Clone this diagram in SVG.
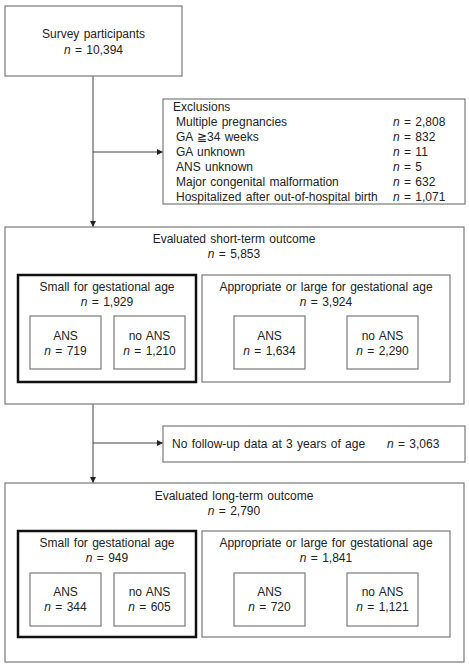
<svg xmlns="http://www.w3.org/2000/svg" width="469" height="664" viewBox="0 0 469 664">
<defs>
<marker id="ah" viewBox="0 0 6 6" refX="6" refY="3" markerWidth="6" markerHeight="6" markerUnits="userSpaceOnUse" orient="auto">
<path d="M0,0 L6,3 L0,6 Z" fill="#222"/>
</marker>
<style>
text{font-family:"Liberation Sans",Arial,sans-serif;font-size:12px;fill:#222;word-spacing:1px}
.c{text-anchor:middle}
.box{fill:#fff;stroke:#7a7a7a;stroke-width:1.2}
.thick{fill:#fff;stroke:#111;stroke-width:2.5}
.ln{fill:none;stroke:#444;stroke-width:1}
tspan.i{font-style:italic}
</style>
</defs>
<rect width="469" height="664" fill="#fff"/>
<g id="connectors">
<line class="ln" x1="93" y1="76" x2="93" y2="227" marker-end="url(#ah)"/>
<line class="ln" x1="93" y1="152" x2="163" y2="152" marker-end="url(#ah)"/>
<line class="ln" x1="93" y1="404" x2="93" y2="483" marker-end="url(#ah)"/>
<line class="ln" x1="93" y1="443" x2="163" y2="443" marker-end="url(#ah)"/>
</g>
<g id="survey">
<rect class="box" x="5" y="6" width="177" height="70"/>
<text class="c" x="93.5" y="38">Survey participants</text>
<text class="c" x="93.5" y="54"><tspan class="i">n</tspan> = 10,394</text>
</g>
<g id="exclusions">
<rect class="box" x="163" y="99" width="302" height="105"/>
<text x="173" y="111">Exclusions</text>
<text x="176" y="126">Multiple  pregnancies</text>
<text x="176" y="141">GA ≧34 weeks</text>
<text x="176" y="156">GA unknown</text>
<text x="176" y="171">ANS unknown</text>
<text x="176" y="186">Major congenital malformation</text>
<text x="176" y="201">Hospitalized after out-of-hospital birth</text>
<text x="393" y="126"><tspan class="i">n</tspan> = 2,808</text>
<text x="393" y="141"><tspan class="i">n</tspan> = 832</text>
<text x="393" y="156"><tspan class="i">n</tspan> = 11</text>
<text x="393" y="171"><tspan class="i">n</tspan> = 5</text>
<text x="393" y="186"><tspan class="i">n</tspan> = 632</text>
<text x="393" y="201"><tspan class="i">n</tspan> = 1,071</text>
</g>
<g id="short-term">
<rect class="box" x="5" y="227" width="459" height="177"/>
<text class="c" x="234" y="243">Evaluated short-term outcome</text>
<text class="c" x="234" y="258"><tspan class="i">n</tspan> = 5,853</text>
</g>
<g id="short-sga">
<rect class="thick" x="18" y="275" width="178" height="107"/>
<text class="c" x="107" y="291">Small for gestational age</text>
<text class="c" x="107" y="306"><tspan class="i">n</tspan> = 1,929</text>
</g>
<g id="short-sga-ans">
<rect class="box" x="30" y="316" width="71" height="53"/>
<text class="c" x="65.5" y="340">ANS</text>
<text class="c" x="65.5" y="355"><tspan class="i">n</tspan> = 719</text>
</g>
<g id="short-sga-noans">
<rect class="box" x="114" y="316" width="71" height="53"/>
<text class="c" x="149.5" y="340">no ANS</text>
<text class="c" x="149.5" y="355"><tspan class="i">n</tspan> = 1,210</text>
</g>
<g id="short-aga">
<rect class="box" x="202" y="275" width="248" height="107"/>
<text class="c" x="326" y="291">Appropriate or large for gestational age</text>
<text class="c" x="326" y="306"><tspan class="i">n</tspan> = 3,924</text>
</g>
<g id="short-aga-ans">
<rect class="box" x="234" y="316" width="71" height="53"/>
<text class="c" x="269.5" y="340">ANS</text>
<text class="c" x="269.5" y="355"><tspan class="i">n</tspan> = 1,634</text>
</g>
<g id="short-aga-noans">
<rect class="box" x="347" y="316" width="71" height="53"/>
<text class="c" x="382.5" y="340">no ANS</text>
<text class="c" x="382.5" y="355"><tspan class="i">n</tspan> = 2,290</text>
</g>
<g id="no-followup">
<rect class="box" x="163" y="426" width="302" height="36"/>
<text x="172" y="448">No follow-up data at 3 years of age</text>
<text x="387" y="448"><tspan class="i">n</tspan> = 3,063</text>
</g>
<g id="long-term">
<rect class="box" x="5" y="483" width="459" height="179"/>
<text class="c" x="234" y="500">Evaluated long-term outcome</text>
<text class="c" x="234" y="515"><tspan class="i">n</tspan> = 2,790</text>
</g>
<g id="long-sga">
<rect class="thick" x="18" y="531" width="178" height="106"/>
<text class="c" x="107" y="547">Small for gestational age</text>
<text class="c" x="107" y="562"><tspan class="i">n</tspan> = 949</text>
</g>
<g id="long-sga-ans">
<rect class="box" x="30" y="573" width="71" height="53"/>
<text class="c" x="65.5" y="596">ANS</text>
<text class="c" x="65.5" y="611"><tspan class="i">n</tspan> = 344</text>
</g>
<g id="long-sga-noans">
<rect class="box" x="114" y="573" width="71" height="53"/>
<text class="c" x="149.5" y="596">no ANS</text>
<text class="c" x="149.5" y="611"><tspan class="i">n</tspan> = 605</text>
</g>
<g id="long-aga">
<rect class="box" x="202" y="531" width="248" height="106"/>
<text class="c" x="326" y="547">Appropriate or large for gestational age</text>
<text class="c" x="326" y="562"><tspan class="i">n</tspan> = 1,841</text>
</g>
<g id="long-aga-ans">
<rect class="box" x="234" y="573" width="71" height="53"/>
<text class="c" x="269.5" y="596">ANS</text>
<text class="c" x="269.5" y="611"><tspan class="i">n</tspan> = 720</text>
</g>
<g id="long-aga-noans">
<rect class="box" x="347" y="573" width="71" height="53"/>
<text class="c" x="382.5" y="596">no ANS</text>
<text class="c" x="382.5" y="611"><tspan class="i">n</tspan> = 1,121</text>
</g>
</svg>
